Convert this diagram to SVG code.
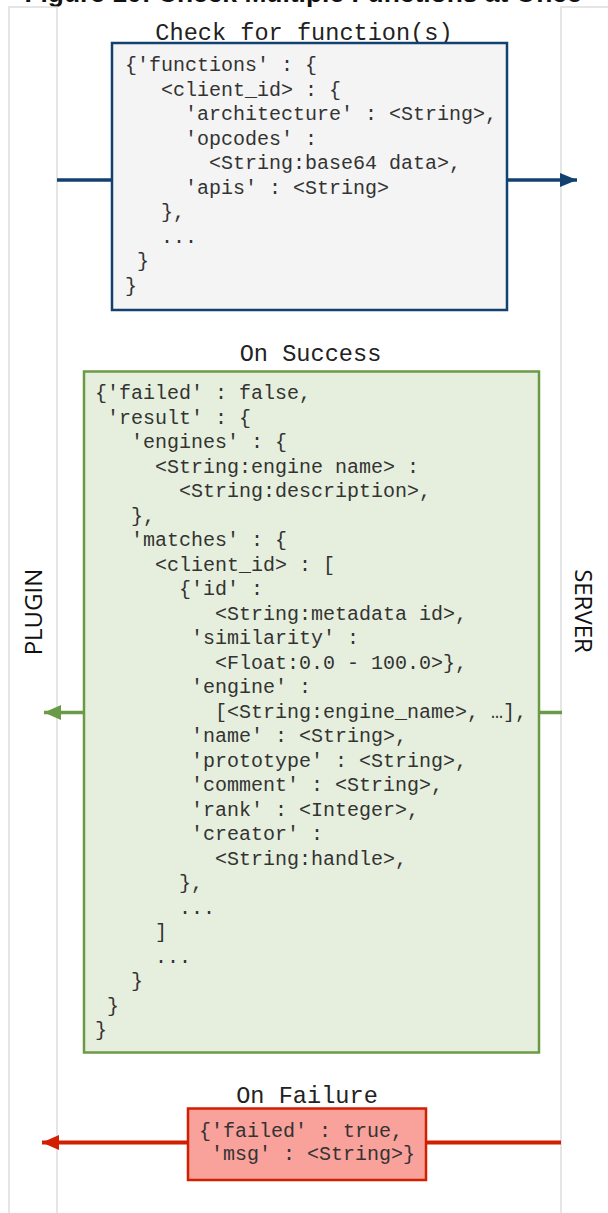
<svg xmlns="http://www.w3.org/2000/svg" width="608" height="1213" viewBox="0 0 608 1213">
<style>
.lane{fill:none;stroke:#dddddd;stroke-width:1.5}
.mono{font-family:"Liberation Mono","Courier New",monospace;font-size:20px;fill:#333333}
.lbl{font-family:"Liberation Mono","Courier New",monospace;font-size:23.6px;fill:#222;text-anchor:middle}
.side{font-family:"Open Sans","DejaVu Sans",sans-serif;font-size:24px;fill:#111;text-anchor:middle}
.title{font-family:"Liberation Sans",Arial,sans-serif;font-weight:bold;font-size:26.4px;fill:#111;text-anchor:middle}
</style>
<defs>
<marker id="hb" markerUnits="userSpaceOnUse" markerWidth="18" markerHeight="16" refX="17" refY="7" orient="auto"><path d="M0,0 L17,7 L0,14 Z" fill="#12406f"/></marker>
<marker id="hg" markerUnits="userSpaceOnUse" markerWidth="18" markerHeight="16" refX="17" refY="7.5" orient="auto"><path d="M0,0 L17,7.5 L0,15 Z" fill="#6a9a45"/></marker>
<marker id="hr" markerUnits="userSpaceOnUse" markerWidth="18" markerHeight="16" refX="17" refY="7.5" orient="auto"><path d="M0,0 L17,7.5 L0,15 Z" fill="#d21f00"/></marker>
</defs>
<rect width="608" height="1213" fill="#ffffff"/>
<text class="title" x="303" y="2">Figure 10: Check Multiple Functions at Once</text>
<g id="plugin">
<rect class="lane" x="9" y="7" width="48" height="1220"/>
<text class="side" transform="translate(41.5,612) rotate(-90)">PLUGIN</text>
</g>
<g id="server">
<rect class="lane" x="561" y="7" width="60" height="1220"/>
<text class="side" transform="translate(575,611) rotate(90)">SERVER</text>
</g>
<g id="connectors">
<line x1="57" y1="180" x2="112" y2="180" stroke="#12406f" stroke-width="3.5"/>
<line x1="507" y1="180" x2="577" y2="180" stroke="#12406f" stroke-width="3.5" marker-end="url(#hb)"/>
<line x1="562" y1="712.5" x2="539" y2="712.5" stroke="#6a9a45" stroke-width="3.5"/>
<line x1="84" y1="712.5" x2="44" y2="712.5" stroke="#6a9a45" stroke-width="3.5" marker-end="url(#hg)"/>
<line x1="561" y1="1142.5" x2="426" y2="1142.5" stroke="#d21f00" stroke-width="4"/>
<line x1="188" y1="1142.5" x2="42" y2="1142.5" stroke="#d21f00" stroke-width="4" marker-end="url(#hr)"/>
</g>
<g id="request">
<text class="lbl" x="304" y="40">Check for function(s)</text>
<rect x="112" y="43" width="395" height="267" fill="#f4f4f4" stroke="#12406f" stroke-width="2.5"/>
<text class="mono" x="125" y="71">{'functions' : {</text>
<text class="mono" x="161" y="95.5">&lt;client_id&gt; : {</text>
<text class="mono" x="185" y="120">'architecture' : &lt;String&gt;,</text>
<text class="mono" x="185" y="144.5">'opcodes' :</text>
<text class="mono" x="209" y="169">&lt;String:base64 data&gt;,</text>
<text class="mono" x="185" y="193.5">'apis' : &lt;String&gt;</text>
<text class="mono" x="161" y="218">},</text>
<text class="mono" x="161" y="242.5">...</text>
<text class="mono" x="137" y="267">}</text>
<text class="mono" x="125" y="291.5">}</text>
</g>
<g id="success">
<text class="lbl" x="310.5" y="361">On Success</text>
<rect x="84" y="371.5" width="455" height="681" fill="#e6efdd" stroke="#6a9a45" stroke-width="2.5"/>
<text class="mono" x="95" y="399">{'failed' : false,</text>
<text class="mono" x="107" y="423.5">'result' : {</text>
<text class="mono" x="131" y="448">'engines' : {</text>
<text class="mono" x="155" y="472.5">&lt;String:engine name&gt; :</text>
<text class="mono" x="179" y="497">&lt;String:description&gt;,</text>
<text class="mono" x="131" y="521.5">},</text>
<text class="mono" x="131" y="546">'matches' : {</text>
<text class="mono" x="155" y="570.5">&lt;client_id&gt; : [</text>
<text class="mono" x="179" y="595">{'id' :</text>
<text class="mono" x="215" y="619.5">&lt;String:metadata id&gt;,</text>
<text class="mono" x="191" y="644">'similarity' :</text>
<text class="mono" x="215" y="668.5">&lt;Float:0.0 - 100.0&gt;},</text>
<text class="mono" x="191" y="693">'engine' :</text>
<text class="mono" x="215" y="717.5">[&lt;String:engine_name&gt;, …],</text>
<text class="mono" x="191" y="742">'name' : &lt;String&gt;,</text>
<text class="mono" x="191" y="766.5">'prototype' : &lt;String&gt;,</text>
<text class="mono" x="191" y="791">'comment' : &lt;String&gt;,</text>
<text class="mono" x="191" y="815.5">'rank' : &lt;Integer&gt;,</text>
<text class="mono" x="191" y="840">'creator' :</text>
<text class="mono" x="215" y="864.5">&lt;String:handle&gt;,</text>
<text class="mono" x="179" y="889">},</text>
<text class="mono" x="179" y="913.5">...</text>
<text class="mono" x="155" y="938">]</text>
<text class="mono" x="155" y="962.5">...</text>
<text class="mono" x="131" y="987">}</text>
<text class="mono" x="107" y="1011.5">}</text>
<text class="mono" x="95" y="1036">}</text>
</g>
<g id="failure">
<text class="lbl" x="307" y="1103">On Failure</text>
<rect x="188" y="1108.5" width="238" height="71.5" fill="#f9a19b" stroke="#d21f00" stroke-width="2.5"/>
<text class="mono" x="199" y="1137">{'failed' : true,</text>
<text class="mono" x="211" y="1160">'msg' : &lt;String&gt;}</text>
</g>
</svg>
